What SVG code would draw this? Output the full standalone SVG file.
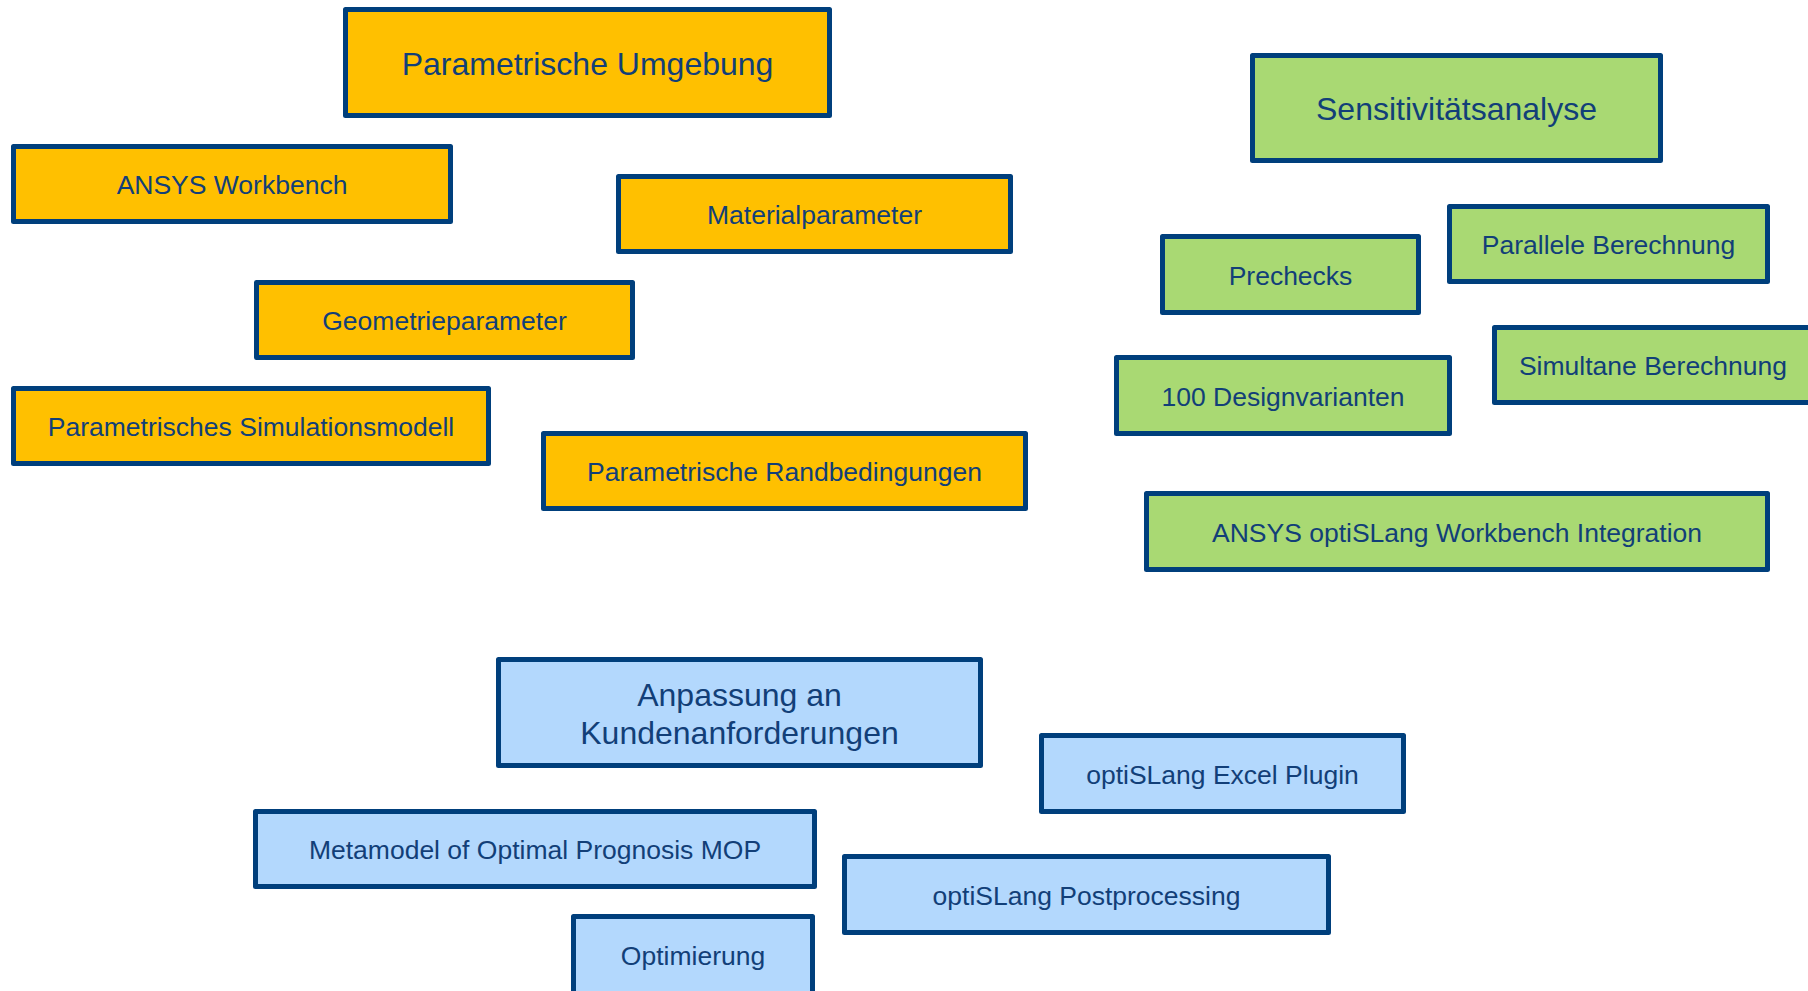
<svg xmlns="http://www.w3.org/2000/svg" width="1808" height="991" viewBox="0 0 1808 991">
<style>
rect.b{stroke:#003f7c;stroke-width:5;stroke-linejoin:round}
.o{fill:#ffc000}
.g{fill:#a9d973}
.l{fill:#b3d8fd}
text{font-family:"Liberation Sans",Arial,sans-serif;fill:#123f78;text-anchor:middle;dominant-baseline:central}
.s{font-size:26.5px}
.L{font-size:32px}
</style>
<rect width="1808" height="991" fill="#ffffff"/>
<g id="connectors"/>
<g id="n-parametrische-umgebung"><rect class="b o" x="345.5" y="9.5" width="484" height="106"/><text class="L" x="587.5" y="64">Parametrische Umgebung</text></g>
<g id="n-ansys-workbench"><rect class="b o" x="13.5" y="146.5" width="437" height="75"/><text class="s" x="232" y="185">ANSYS Workbench</text></g>
<g id="n-materialparameter"><rect class="b o" x="618.5" y="176.5" width="392" height="75"/><text class="s" x="814.5" y="215">Materialparameter</text></g>
<g id="n-geometrieparameter"><rect class="b o" x="256.5" y="282.5" width="376" height="75"/><text class="s" x="444.5" y="321">Geometrieparameter</text></g>
<g id="n-parametrisches-simulationsmodell"><rect class="b o" x="13.5" y="388.5" width="475" height="75"/><text class="s" x="251" y="427">Parametrisches Simulationsmodell</text></g>
<g id="n-parametrische-randbedingungen"><rect class="b o" x="543.5" y="433.5" width="482" height="75"/><text class="s" x="784.5" y="472">Parametrische Randbedingungen</text></g>
<g id="n-sensitivitaetsanalyse"><rect class="b g" x="1252.5" y="55.5" width="408" height="105"/><text class="L" x="1456.5" y="109">Sensitivitätsanalyse</text></g>
<g id="n-prechecks"><rect class="b g" x="1162.5" y="236.5" width="256" height="76"/><text class="s" x="1290.5" y="275.5">Prechecks</text></g>
<g id="n-parallele-berechnung"><rect class="b g" x="1449.5" y="206.5" width="318" height="75"/><text class="s" x="1608.5" y="245">Parallele Berechnung</text></g>
<g id="n-simultane-berechnung"><rect class="b g" x="1494.5" y="327.5" width="317" height="75"/><text class="s" x="1653" y="366">Simultane Berechnung</text></g>
<g id="n-100-designvarianten"><rect class="b g" x="1116.5" y="357.5" width="333" height="76"/><text class="s" x="1283" y="396.5">100 Designvarianten</text></g>
<g id="n-ansys-optislang-workbench-integration"><rect class="b g" x="1146.5" y="493.5" width="621" height="76"/><text class="s" x="1457" y="532.5">ANSYS optiSLang Workbench Integration</text></g>
<g id="n-anpassung"><rect class="b l" x="498.5" y="659.5" width="482" height="106"/><text class="L" x="739.5" y="695">Anpassung an</text><text class="L" x="739.5" y="733">Kundenanforderungen</text></g>
<g id="n-optislang-excel-plugin"><rect class="b l" x="1041.5" y="735.5" width="362" height="76"/><text class="s" x="1222.5" y="774.5">optiSLang Excel Plugin</text></g>
<g id="n-metamodel-mop"><rect class="b l" x="255.5" y="811.5" width="559" height="75"/><text class="s" x="535" y="850">Metamodel of Optimal Prognosis MOP</text></g>
<g id="n-optislang-postprocessing"><rect class="b l" x="844.5" y="856.5" width="484" height="76"/><text class="s" x="1086.5" y="895.5">optiSLang Postprocessing</text></g>
<g id="n-optimierung"><rect class="b l" x="573.5" y="916.5" width="239" height="80"/><text class="s" x="693" y="956">Optimierung</text></g>
</svg>
